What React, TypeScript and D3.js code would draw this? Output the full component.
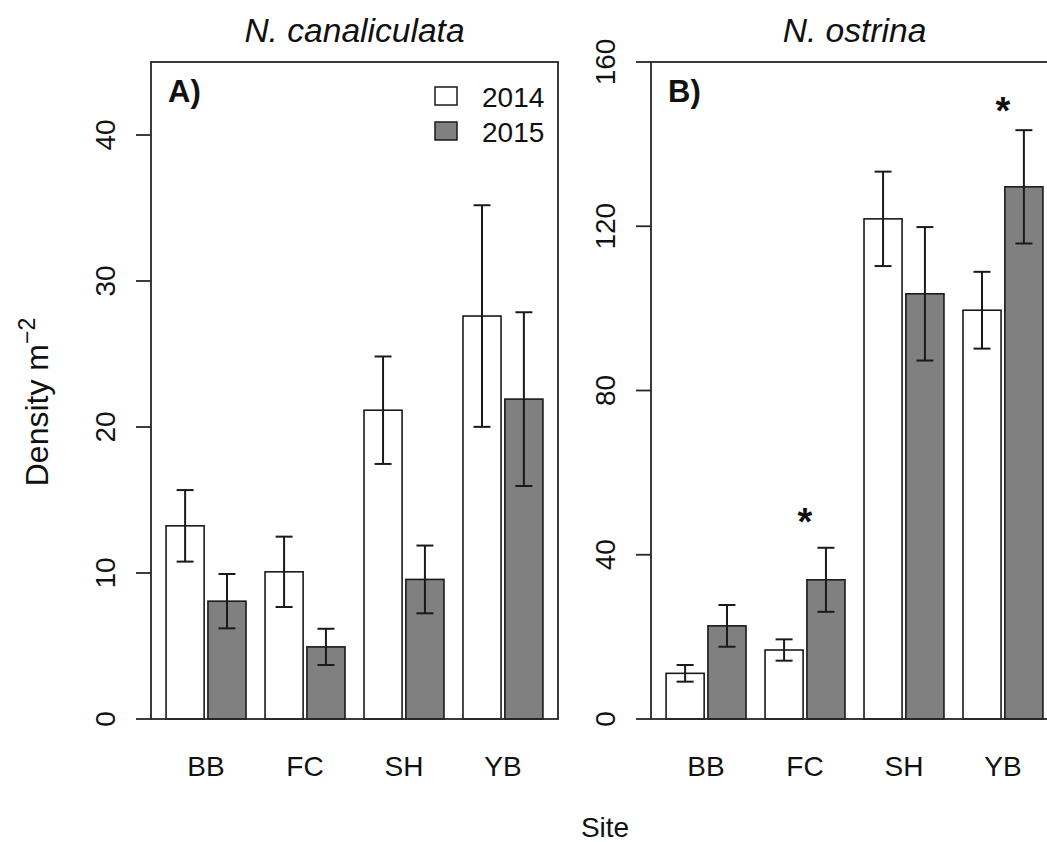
// Snail density by site and year - two panel barplot with SE bars

import { useEffect, useRef } from "react";
import * as d3 from "d3";

const sites = ["BB", "FC", "SH", "YB"];
const years = ["2014", "2015"];

// N. canaliculata (panel A)
const canalMean2014 = [13.23, 10.08, 21.15, 27.6];
const canalSE2014 = [2.45, 2.41, 3.68, 7.59];
const canalMean2015 = [8.07, 4.94, 9.56, 21.91];
const canalSE2015 = [1.86, 1.24, 2.32, 5.95];
const canalTicks = [0, 10, 20, 30, 40];

// N. ostrina (panel B)
const ostMean2014 = [11.12, 16.8, 121.8, 99.55];
const ostSE2014 = [2.03, 2.6, 11.5, 9.35];
const ostMean2015 = [22.68, 33.9, 103.55, 129.6];
const ostSE2015 = [5.08, 7.8, 16.25, 13.8];
const ostTicks = [0, 40, 80, 120, 160];
const ostStars = [
  { site: "FC", y: 50 },
  { site: "YB", y: 150 },
];

const FONT = "'Liberation Sans', Arial, Helvetica, sans-serif";
const W = 1047;
const H = 842;

interface PanelOpts {
  left: number;
  right: number;
  top: number;
  bottom: number;
  yMax: number;
  ticks: number[];
  mean2014: number[];
  se2014: number[];
  mean2015: number[];
  se2015: number[];
  title: string;
  tag: string;
  legend: boolean;
  stars: { site: string; y: number }[];
}

function drawPanel(svg: d3.Selection<SVGSVGElement, unknown, null, undefined>, o: PanelOpts) {
  const g = svg.append("g");

  const y = d3.scaleLinear().domain([0, o.yMax]).range([o.bottom, o.top]);
  const x0 = d3
    .scaleBand<string>()
    .domain(sites)
    .range([o.left, o.right])
    .paddingInner(0.5 / 2.6)
    .paddingOuter(0.396 / 2.6);
  const x1 = d3
    .scaleBand<string>()
    .domain(years)
    .range([0, x0.bandwidth()])
    .paddingInner(1 / 11);

  const rows = sites.flatMap((s, i) => [
    { site: s, year: "2014", mean: o.mean2014[i], se: o.se2014[i] },
    { site: s, year: "2015", mean: o.mean2015[i], se: o.se2015[i] },
  ]);

  // bars
  g.selectAll("rect.bar")
    .data(rows)
    .enter()
    .append("rect")
    .attr("x", (d) => x0(d.site)! + x1(d.year)!)
    .attr("y", (d) => y(d.mean))
    .attr("width", x1.bandwidth())
    .attr("height", (d) => y(0) - y(d.mean))
    .attr("fill", (d) => (d.year === "2014" ? "#ffffff" : "#808080"))
    .attr("stroke", "#1a1a1a")
    .attr("stroke-width", 1.6);

  // error bars
  const cap = 8.5;
  rows.forEach((d) => {
    const cx = x0(d.site)! + x1(d.year)! + x1.bandwidth() / 2;
    const yt = y(d.mean + d.se);
    const yb = y(d.mean - d.se);
    g.append("line")
      .attr("x1", cx).attr("x2", cx).attr("y1", yt).attr("y2", yb)
      .attr("stroke", "#1a1a1a").attr("stroke-width", 2);
    [yt, yb].forEach((yy) => {
      g.append("line")
        .attr("x1", cx - cap).attr("x2", cx + cap).attr("y1", yy).attr("y2", yy)
        .attr("stroke", "#1a1a1a").attr("stroke-width", 2);
    });
  });

  // box
  g.append("rect")
    .attr("x", o.left)
    .attr("y", o.top)
    .attr("width", o.right - o.left)
    .attr("height", o.bottom - o.top)
    .attr("fill", "none")
    .attr("stroke", "#262626")
    .attr("stroke-width", 1.8);

  // y axis
  o.ticks.forEach((t) => {
    g.append("line")
      .attr("x1", o.left - 15).attr("x2", o.left)
      .attr("y1", y(t)).attr("y2", y(t))
      .attr("stroke", "#262626").attr("stroke-width", 1.8);
    g.append("text")
      .attr("transform", `translate(${o.left - 36},${y(t)}) rotate(-90)`)
      .attr("text-anchor", "middle")
      .style("font-family", FONT)
      .style("font-size", "28px")
      .attr("fill", "#111")
      .text(t);
  });

  // x labels
  sites.forEach((s) => {
    g.append("text")
      .attr("x", x0(s)! + x0.bandwidth() / 2)
      .attr("y", 776)
      .attr("text-anchor", "middle")
      .style("font-family", FONT)
      .style("font-size", "28px")
      .attr("fill", "#111")
      .text(s);
  });

  // title
  g.append("text")
    .attr("x", (o.left + o.right) / 2)
    .attr("y", 42)
    .attr("text-anchor", "middle")
    .style("font-family", FONT)
    .style("font-size", "33.6px")
    .style("font-style", "italic")
    .attr("fill", "#111")
    .text(o.title);

  // panel tag
  g.append("text")
    .attr("x", o.left + 17)
    .attr("y", 102)
    .style("font-family", FONT)
    .style("font-size", "31px")
    .style("font-weight", "bold")
    .attr("fill", "#111")
    .text(o.tag);

  // significance stars
  o.stars.forEach((s) => {
    g.append("text")
      .attr("x", x0(s.site)! + x0.bandwidth() / 2)
      .attr("y", y(s.y) + 21)
      .attr("text-anchor", "middle")
      .style("font-family", FONT)
      .style("font-size", "38px")
      .style("font-weight", "bold")
      .attr("fill", "#111")
      .text("*");
  });

  if (o.legend) {
    years.forEach((yr, i) => {
      const ly = 87 + i * 35;
      g.append("rect")
        .attr("x", 435).attr("y", ly)
        .attr("width", 22).attr("height", 18)
        .attr("fill", yr === "2014" ? "#ffffff" : "#808080")
        .attr("stroke", "#1a1a1a").attr("stroke-width", 1.5);
      g.append("text")
        .attr("x", 482).attr("y", ly + 20)
        .style("font-family", FONT)
        .style("font-size", "28px")
        .attr("fill", "#111")
        .text(yr);
    });
  }
}

export default function App() {
  const svgRef = useRef<SVGSVGElement>(null);

  useEffect(() => {
    if (!svgRef.current) return;
    const svg = d3.select(svgRef.current);
    svg.selectAll("*").remove();

    drawPanel(svg, {
      left: 151, right: 558, top: 62, bottom: 719, yMax: 45,
      ticks: canalTicks,
      mean2014: canalMean2014, se2014: canalSE2014,
      mean2015: canalMean2015, se2015: canalSE2015,
      title: "N. canaliculata", tag: "A)", legend: true, stars: [],
    });
    drawPanel(svg, {
      left: 651, right: 1058, top: 62, bottom: 719, yMax: 160,
      ticks: ostTicks,
      mean2014: ostMean2014, se2014: ostSE2014,
      mean2015: ostMean2015, se2015: ostSE2015,
      title: "N. ostrina", tag: "B)", legend: false, stars: ostStars,
    });

    // shared axis titles
    const yLab = svg
      .append("text")
      .attr("transform", `translate(48,402) rotate(-90)`)
      .attr("text-anchor", "middle")
      .style("font-family", FONT)
      .style("font-size", "32px")
      .attr("fill", "#111");
    yLab.append("tspan").text("Density m");
    yLab.append("tspan").attr("dy", -13).style("font-size", "23px").text("\u22122");

    svg.append("text")
      .attr("x", 605)
      .attr("y", 837)
      .attr("text-anchor", "middle")
      .style("font-family", FONT)
      .style("font-size", "28px")
      .attr("fill", "#111")
      .text("Site");
  }, []);

  return (
    <svg
      ref={svgRef}
      width={W}
      height={H}
      style={{ position: "absolute", left: 0, top: 0, background: "#fff" }}
    />
  );
}
